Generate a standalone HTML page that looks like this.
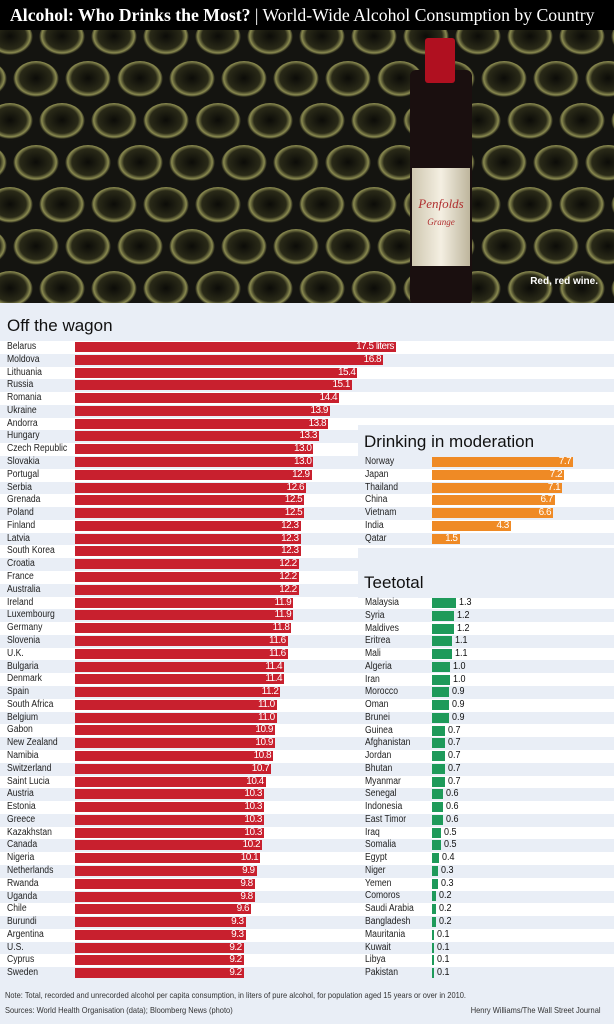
<!DOCTYPE html>
<html><head><meta charset="utf-8">
<style>
body{margin:0;width:614px;height:1024px;overflow:hidden;background:#e9eef6;font-family:"Liberation Sans Narrow","Liberation Sans",sans-serif;position:relative}
#title{position:absolute;left:0;top:0;width:614px;height:30px;background:#000;color:#fff;font-family:"Liberation Serif",serif;font-size:17.7px;line-height:30px;white-space:nowrap;overflow:hidden}
#title b{margin-left:10px}
.a{position:absolute;white-space:nowrap}
.h{font-family:"Liberation Sans",sans-serif;font-size:17px;color:#111}
.lab{font-size:10px;color:#222;line-height:12px;transform:scaleX(0.86);transform-origin:0 0}
.bar{position:absolute;height:10px}
.v{position:absolute;font-size:10px;color:#fff;line-height:10px;text-align:right;letter-spacing:-0.5px}
.gv{position:absolute;font-size:10px;color:#111;line-height:12px;transform:scaleX(0.9);transform-origin:0 0}
.st{position:absolute;left:0;width:614px;height:12.78px;background:#fff}
.ft{position:absolute;font-size:8.5px;color:#333;white-space:nowrap;transform:scaleX(0.88);}
</style></head><body>
<div id="title"><b>Alcohol: Who Drinks the Most?</b> | World-Wide Alcohol Consumption by Country</div>
<svg class="a" style="left:0;top:30px" width="614" height="273" id="ph"><defs>
<radialGradient id="g" cx="50%" cy="45%" r="50%"><stop offset="0" stop-color="#0c0c08"/><stop offset="0.7" stop-color="#2a2a18"/><stop offset="0.88" stop-color="#8a8a50"/><stop offset="1" stop-color="#151510"/></radialGradient>
<linearGradient id="lb" x1="0" x2="1"><stop offset="0" stop-color="#cfc7b0"/><stop offset="0.5" stop-color="#f4efe2"/><stop offset="1" stop-color="#bdb59c"/></linearGradient></defs>
<rect width="614" height="273" fill="#141410"/><g id="cg"></g>
<rect x="410" y="40" width="62" height="235" rx="6" fill="#1a0f0f"/>
<rect x="425" y="8" width="30" height="45" rx="3" fill="#b01020"/>
<rect x="412" y="138" width="58" height="98" fill="url(#lb)"/>
<text x="441" y="178" font-family="Liberation Serif" font-style="italic" font-size="13" fill="#b03030" text-anchor="middle">Penfolds</text>
<text x="441" y="195" font-family="Liberation Serif" font-style="italic" font-size="9" fill="#b03030" text-anchor="middle">Grange</text>
<text x="598" y="254" font-family="Liberation Sans" font-weight="bold" font-size="10" fill="#fff" text-anchor="end">Red, red wine.</text>
</svg>
<div id="main"></div>
<div class="a" style="left:358px;top:425px;width:256px;height:32px;background:#e9eef6"></div>
<div class="a" style="left:358px;top:548px;width:256px;height:50px;background:#e9eef6"></div>
<div class="a h" style="left:7px;top:316px">Off the wagon</div>
<div class="a h" style="left:364px;top:432px">Drinking in moderation</div>
<div class="a h" style="left:364px;top:573px">Teetotal</div>
<div id="bars"></div>
<div class="ft" style="left:5px;top:990px;transform-origin:0 0">Note: Total, recorded and unrecorded alcohol per capita consumption, in liters of pure alcohol, for population aged 15 years or over in 2010.</div>
<div class="ft" style="left:5px;top:1005px;transform-origin:0 0">Sources: World Health Organisation (data); Bloomberg News (photo)</div>
<div class="ft" style="right:13px;top:1005px;transform-origin:100% 0">Henry Williams/The Wall Street Journal</div>
<script>
var cg=document.getElementById('cg'),s='';
for(var r=0;r<7;r++)for(var c=-1;c<13;c++){var x=c*52+(r%2?26:0)+10,y=r*42+8;s+='<ellipse cx="'+x+'" cy="'+y+'" rx="23" ry="19" fill="url(#g)"/>';}
cg.innerHTML=s;
var W=[["Belarus",17.5],["Moldova",16.8],["Lithuania",15.4],["Russia",15.1],["Romania",14.4],["Ukraine",13.9],["Andorra",13.8],["Hungary",13.3],["Czech Republic",13.0],["Slovakia",13.0],["Portugal",12.9],["Serbia",12.6],["Grenada",12.5],["Poland",12.5],["Finland",12.3],["Latvia",12.3],["South Korea",12.3],["Croatia",12.2],["France",12.2],["Australia",12.2],["Ireland",11.9],["Luxembourg",11.9],["Germany",11.8],["Slovenia",11.6],["U.K.",11.6],["Bulgaria",11.4],["Denmark",11.4],["Spain",11.2],["South Africa",11.0],["Belgium",11.0],["Gabon",10.9],["New Zealand",10.9],["Namibia",10.8],["Switzerland",10.7],["Saint Lucia",10.4],["Austria",10.3],["Estonia",10.3],["Greece",10.3],["Kazakhstan",10.3],["Canada",10.2],["Nigeria",10.1],["Netherlands",9.9],["Rwanda",9.8],["Uganda",9.8],["Chile",9.6],["Burundi",9.3],["Argentina",9.3],["U.S.",9.2],["Cyprus",9.2],["Sweden",9.2]];
var M=[["Norway",7.7],["Japan",7.2],["Thailand",7.1],["China",6.7],["Vietnam",6.6],["India",4.3],["Qatar",1.5]];
var T=[["Malaysia","1.3"],["Syria","1.2"],["Maldives","1.2"],["Eritrea","1.1"],["Mali","1.1"],["Algeria","1.0"],["Iran","1.0"],["Morocco","0.9"],["Oman","0.9"],["Brunei","0.9"],["Guinea","0.7"],["Afghanistan","0.7"],["Jordan","0.7"],["Bhutan","0.7"],["Myanmar","0.7"],["Senegal","0.6"],["Indonesia","0.6"],["East Timor","0.6"],["Iraq","0.5"],["Somalia","0.5"],["Egypt","0.4"],["Niger","0.3"],["Yemen","0.3"],["Comoros","0.2"],["Saudi Arabia","0.2"],["Bangladesh","0.2"],["Mauritania","0.1"],["Kuwait","0.1"],["Libya","0.1"],["Pakistan","0.1"]];
var K=18.34,st='',h='',S=12.78;
for(var i=0;i<50;i++){if(i%2==0)st+='<div class="st" style="top:'+(341+i*S)+'px"></div>';}
document.getElementById('main').innerHTML=st;
W.forEach(function(d,i){var y=347+i*S,w=d[1]*K;
h+='<div class="a lab" style="left:7px;top:'+(y-6)+'px">'+d[0]+'</div><div class="bar" style="left:75px;top:'+(y-5)+'px;width:'+w+'px;background:#c8202e"></div><div class="v" style="left:75px;width:'+(w-2)+'px;top:'+(y-5)+'px">'+(i==0?'17.5 liters':d[1].toFixed(1))+'</div>';});
M.forEach(function(d,i){var y=462+i*12.8,w=d[1]*K;
h+='<div class="a lab" style="left:365px;top:'+(y-6)+'px">'+d[0]+'</div><div class="bar" style="left:432px;top:'+(y-5)+'px;width:'+w+'px;background:#ef8a25"></div><div class="v" style="left:432px;width:'+(w-2)+'px;top:'+(y-5)+'px">'+d[1].toFixed(1)+'</div>';});
T.forEach(function(d,i){var y=603+i*12.76,w=Math.max(1.5,parseFloat(d[1])*K);
h+='<div class="a lab" style="left:365px;top:'+(y-6)+'px">'+d[0]+'</div><div class="bar" style="left:432px;top:'+(y-5)+'px;width:'+w+'px;background:#1e9a5a"></div><div class="gv" style="left:'+(432+w+3)+'px;top:'+(y-6)+'px">'+d[1]+'</div>';});
document.getElementById('bars').innerHTML=h;
</script>
</body></html>
